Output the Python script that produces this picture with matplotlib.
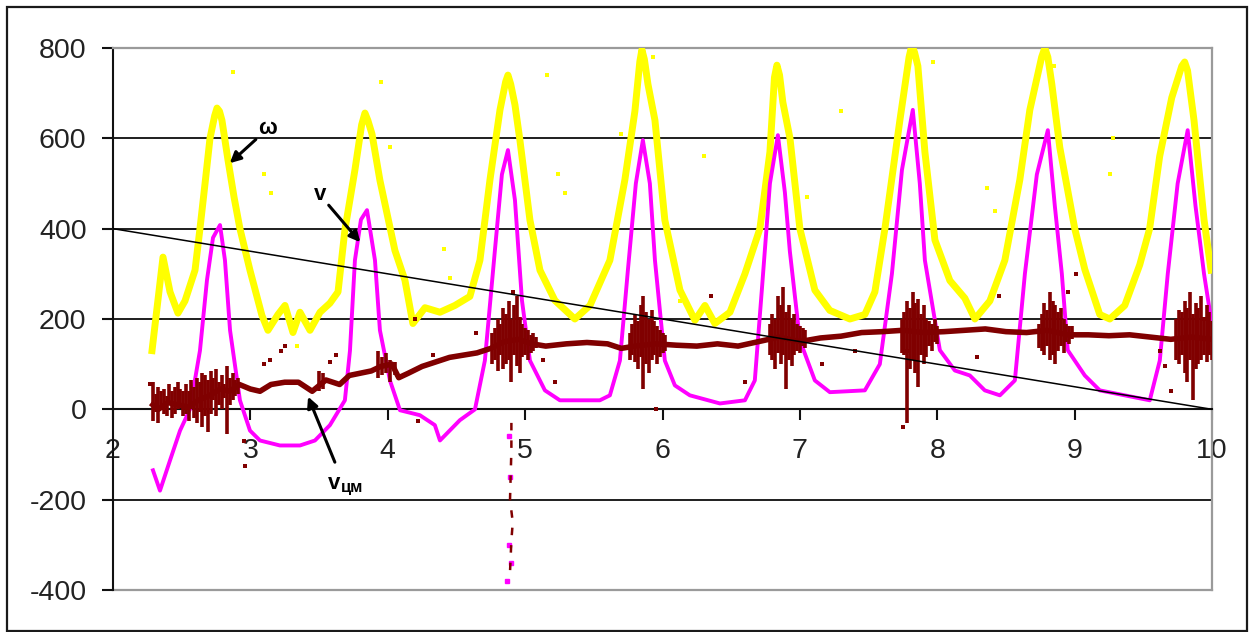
import matplotlib
matplotlib.use("Agg")
import matplotlib.pyplot as plt
from matplotlib.patches import Rectangle

plt.rcParams['font.family'] = ['Liberation Sans', 'DejaVu Sans']

# --- angular velocity ω ---
w_t = [2.284, 2.364, 2.415, 2.473, 2.524, 2.597, 2.633, 2.670, 2.706, 2.740, 2.757,
       2.775, 2.793, 2.837, 2.881, 2.924, 2.997, 3.084, 3.128, 3.201, 3.252, 3.310,
       3.361, 3.434, 3.507, 3.579, 3.638, 3.688, 3.761, 3.810, 3.834, 3.855, 3.885,
       3.943, 4.052, 4.125, 4.183, 4.271, 4.380, 4.489, 4.598, 4.671, 4.744, 4.817,
       4.858, 4.875, 4.895, 4.926, 4.962, 5.035, 5.108, 5.217, 5.362, 5.472, 5.617,
       5.726, 5.799, 5.835, 5.850, 5.868, 5.894, 5.945, 6.017, 6.127, 6.236, 6.309,
       6.381, 6.491, 6.600, 6.709, 6.782, 6.815, 6.833, 6.852, 6.876, 6.928, 7.000,
       7.109, 7.218, 7.364, 7.473, 7.546, 7.619, 7.728, 7.795, 7.815, 7.835, 7.859,
       7.910, 7.983, 8.092, 8.201, 8.274, 8.383, 8.492, 8.601, 8.674, 8.760, 8.783,
       8.805, 8.834, 8.892, 9.001, 9.074, 9.183, 9.256, 9.365, 9.474, 9.546, 9.619,
       9.707, 9.780, 9.801, 9.822, 9.869, 9.942, 9.993]
w_val = [130, 337, 260, 213, 240, 308, 400, 500, 600, 650, 667,
         660, 640, 552, 470, 400, 308, 208, 175, 210, 230, 170,
         215, 175, 215, 235, 260, 397, 530, 630, 656, 640, 610,
         507, 352, 286, 190, 225, 215, 230, 250, 330, 508, 663,
         725, 740, 720, 674, 596, 419, 308, 241, 200, 230, 330,
         508, 660, 770, 796, 775, 720, 640, 419, 264, 197, 230,
         190, 215, 300, 400, 570, 735, 762, 740, 680, 600, 400,
         264, 219, 200, 210, 260, 400, 640, 780, 806, 790, 760,
         570, 375, 285, 246, 200, 240, 330, 508, 663, 780, 800,
         780, 720, 580, 400, 310, 210, 200, 230, 320, 400, 560,
         690, 760, 769, 750, 640, 420, 308]
w_stray_t = [2.873, 3.95, 3.10, 3.15, 4.02, 4.41, 4.45, 5.16, 5.24, 5.29, 6.13, 6.30,
             7.05, 7.30, 8.36, 8.42, 8.65, 9.26, 9.28, 5.70, 3.34, 5.93, 7.97, 8.85]
w_stray = [747, 725, 520, 480, 580, 355, 290, 740, 520, 480, 240, 560,
           470, 660, 490, 440, 605, 520, 600, 610, 140, 780, 770, 760]

# --- linear velocity v ---
v_t = [2.291, 2.342, 2.415, 2.488, 2.560, 2.633, 2.684, 2.728, 2.779, 2.815, 2.852,
       2.924, 2.997, 3.070, 3.215, 3.361, 3.470, 3.579, 3.688, 3.725, 3.761, 3.805,
       3.849, 3.907, 3.943, 4.016, 4.089, 4.234, 4.343, 4.380, 4.525, 4.635, 4.707,
       4.780, 4.831, 4.875, 4.926, 4.977, 5.035, 5.144, 5.253, 5.544, 5.617, 5.690,
       5.748, 5.806, 5.857, 5.908, 5.945, 6.017, 6.090, 6.199, 6.418, 6.600, 6.672,
       6.723, 6.782, 6.840, 6.891, 6.927, 7.000, 7.109, 7.218, 7.473, 7.582, 7.670,
       7.743, 7.822, 7.873, 7.910, 8.019, 8.128, 8.237, 8.346, 8.456, 8.565, 8.638,
       8.725, 8.805, 8.856, 8.907, 8.950, 9.074, 9.183, 9.547, 9.620, 9.678, 9.750,
       9.823, 9.880, 9.942, 9.993]
v_val = [-135, -180, -113, -47, 0, 130, 286, 380, 408, 330, 175,
         20, -47, -69, -80, -80, -69, -35, 20, 130, 330, 420,
         441, 330, 175, 64, -2, -13, -35, -69, -24, 0, 108,
         352, 520, 574, 463, 241, 108, 42, 20, 20, 31, 108,
         308, 500, 596, 500, 330, 108, 53, 31, 13, 20, 64,
         264, 500, 607, 480, 350, 153, 64, 38, 42, 100, 300,
         530, 663, 500, 330, 131, 86, 75, 42, 31, 64, 300,
         520, 618, 450, 300, 131, 75, 42, 20, 108, 300, 500,
         618, 450, 300, 200]
v_drop_t = [4.88, 4.89, 4.88, 4.90, 4.87]
v_drop = [-60, -150, -300, -340, -380]

# --- centre-of-mass velocity v_цм ---
c_t = [2.29, 2.33, 2.40, 2.47, 2.55, 2.62, 2.70, 2.78, 2.85, 2.92, 3.00, 3.07,
       3.15, 3.25, 3.35, 3.45, 3.55, 3.65, 3.72, 3.80, 3.88, 3.95, 4.03, 4.08,
       4.15, 4.25, 4.35, 4.45, 4.55, 4.65, 4.75, 4.85, 4.95, 5.05, 5.15, 5.30,
       5.45, 5.60, 5.70, 5.80, 5.95, 6.10, 6.25, 6.40, 6.55, 6.70, 6.85, 7.00,
       7.15, 7.30, 7.45, 7.60, 7.75, 7.90, 8.05, 8.20, 8.35, 8.50, 8.65, 8.80,
       8.95, 9.10, 9.25, 9.40, 9.55, 9.70, 9.85, 10.0]
c_val = [10, 0, 15, 10, 5, 20, 30, 45, 40, 55, 45, 40,
         55, 60, 60, 40, 65, 55, 75, 80, 85, 95, 100, 70,
         80, 95, 105, 115, 120, 125, 135, 150, 155, 145, 140, 145,
         148, 145, 135, 140, 145, 142, 140, 145, 140, 150, 160, 150,
         158, 162, 170, 172, 175, 170, 172, 175, 178, 172, 170, 175,
         165, 165, 163, 165, 160, 155, 160, 155]
# vertical noise bursts: position, lower and upper value
burst_t = [2.29, 2.31, 2.33, 2.35, 2.37, 2.39, 2.41, 2.43, 2.45, 2.47, 2.49, 2.51,
           2.53, 2.55, 2.57, 2.59, 2.61, 2.63, 2.65, 2.67, 2.69, 2.71, 2.73, 2.75,
           2.77, 2.79, 2.81, 2.83, 2.85, 2.87, 2.89, 2.91,
           3.50, 3.53, 3.93, 3.96, 3.99, 4.02, 4.05,
           4.76, 4.78, 4.80, 4.82, 4.84, 4.86, 4.88, 4.90, 4.92, 4.94, 4.96, 4.98,
           5.00, 5.02, 5.04, 5.06, 5.08,
           5.76, 5.78, 5.80, 5.82, 5.84, 5.86, 5.88, 5.90, 5.92, 5.94, 5.96, 5.98,
           6.00, 6.02,
           6.78, 6.80, 6.82, 6.84, 6.86, 6.88, 6.90, 6.92, 6.94, 6.96, 6.98, 7.00,
           7.02, 7.04,
           7.74, 7.76, 7.78, 7.80, 7.82, 7.84, 7.86, 7.88, 7.90, 7.92, 7.94, 7.96,
           7.98, 8.00,
           8.74, 8.76, 8.78, 8.80, 8.82, 8.84, 8.86, 8.88, 8.90, 8.92, 8.94, 8.96,
           8.98,
           9.74, 9.76, 9.78, 9.80, 9.82, 9.84, 9.86, 9.88, 9.90, 9.92, 9.94, 9.96,
           9.98, 10.0]
burst_lo = [-25, -5, -30, 0, -10, -15, 10, -20, -10, 0, 5, -15,
            -10, -25, 0, -20, -30, -5, -40, -15, -50, -10, 20, -15,
            10, 0, 25, -55, 10, 20, 30, 35,
            40, 45, 70, 75, 80, 60, 75,
            100, 110, 85, 120, 90, 100, 110, 60, 120, 95, 80, 115,
            120, 110, 125, 130, 135,
            110, 120, 105, 90, 115, 45, 100, 80, 110, 120, 100, 115,
            125, 130,
            120, 110, 90, 125, 100, 120, 45, 110, 95, 120, 130, 125,
            140, 135,
            125, 120, -30, 90, 110, 80, 50, 120, 100, 115, 140, 130,
            150, 145,
            135, 130, 120, 140, 110, 120, 100, 130, 140, 125, 150, 145,
            155,
            110, 100, 120, 80, 60, 110, 20, 90, 100, 110, 120, 105,
            120, 110]
burst_hi = [60, 35, 50, 40, 45, 30, 55, 40, 50, 60, 45, 40,
            55, 40, 65, 50, 70, 60, 80, 75, 65, 85, 70, 90,
            60, 75, 55, 95, 70, 80, 65, 70,
            85, 80, 130, 115, 125, 110, 105,
            170, 180, 200, 190, 225, 210, 240, 200, 230, 250, 205, 190,
            180, 175, 165, 170, 160,
            170, 190, 210, 195, 230, 250, 215, 200, 220, 195, 185, 175,
            170, 165,
            190, 210, 200, 250, 230, 270, 215, 230, 200, 210, 190, 185,
            180, 175,
            200, 215, 240, 225, 260, 235, 245, 210, 230, 200, 195, 190,
            200, 185,
            190, 210, 235, 220, 260, 240, 230, 215, 225, 200, 190, 185,
            185,
            200, 220, 215, 240, 225, 260, 210, 235, 225, 250, 200, 230,
            215, 195]
c_stray_t = [2.95, 2.96, 3.10, 3.14, 3.22, 3.25, 4.20, 4.22, 4.33, 4.64, 4.91,
             5.13, 5.22, 5.85, 6.35, 6.60, 7.16, 7.40, 7.78, 8.29, 8.45, 8.95,
             9.01, 9.62, 9.66, 9.70, 9.94, 5.95, 7.75, 2.27, 3.58, 3.62]
c_stray = [-70, -125, 100, 110, 130, 140, 200, -25, 120, 170, 260,
           110, 60, 130, 250, 60, 100, 130, 130, 115, 250, 260,
           300, 130, 95, 40, 200, 0, -40, 55, 105, 120]
c_drop_t = [4.90, 4.90, 4.89, 4.91, 4.90, 4.89]
c_drop = [-30, -90, -200, -250, -290, -360]

# straight reference line
ref_t = [2.0, 10.0]
ref_val = [400, 0]

W, H = 1253, 632
fig = plt.figure(figsize=(W / 100, H / 100), dpi=100)
fig.patch.set_facecolor('white')
fig.add_artist(Rectangle((7 / W, 1 - 631 / H), 1240 / W, 624 / H,
                         transform=fig.transFigure, fill=False,
                         edgecolor='#1a1a1a', linewidth=1.6))

ax = fig.add_axes([113 / W, 1 - 590 / H, 1099 / W, 542 / H])
ax.set_xlim(2, 10)
ax.set_ylim(-400, 800)

for y in [600, 400, 200, -200]:
    ax.axhline(y, color='#1e1e1e', lw=1.4, zorder=1)
ax.axhline(-400, color='#9a9a9a', lw=1.6, zorder=1, clip_on=False)

ax.spines['top'].set_color('#9a9a9a')
ax.spines['top'].set_linewidth(1.6)
ax.spines['right'].set_color('#9a9a9a')
ax.spines['right'].set_linewidth(1.6)
ax.spines['left'].set_color('#111111')
ax.spines['left'].set_linewidth(1.5)
ax.spines['bottom'].set_position(('data', 0))
ax.spines['bottom'].set_color('#111111')
ax.spines['bottom'].set_linewidth(1.5)

ax.set_xticks(range(2, 11))
ax.set_yticks([-400, -200, 0, 200, 400, 600, 800])
ax.set_yticklabels(['-400', '-200', '0', '200', '400', '600', '800'])
ax.tick_params(axis='both', labelsize=20.5, colors='#111111', labelcolor='#222222')
ax.tick_params(axis='x', direction='out', length=8, width=1.5, pad=13)
ax.tick_params(axis='y', direction='out', length=8, width=1.5, pad=11)

# ω
ax.plot(w_t, w_val, color='#FFFF00', lw=5.0, solid_joinstyle='round', zorder=3)
ax.scatter(w_stray_t, w_stray, s=8, marker='s', color='#FFFF00', lw=0, zorder=3)

# v
ax.plot(v_t, v_val, color='#FF00FF', lw=2.8, solid_joinstyle='round', zorder=4)
ax.plot(v_drop_t, v_drop, color='#FF00FF', lw=0, marker='s', ms=2.5, zorder=4)

# v_цм
ax.plot(c_t, c_val, color='#800000', lw=4.0, solid_joinstyle='round', zorder=5)
ax.vlines(burst_t, burst_lo, burst_hi, color='#800000', lw=2.6, zorder=5)
ax.scatter(c_stray_t, c_stray, s=9, marker='s', color='#800000', lw=0, zorder=5)
ax.plot(c_drop_t, c_drop, color='#800000', lw=1.8, ls=(0, (3, 4)), zorder=5)

# reference line
ax.plot(ref_t, ref_val, color='black', lw=1.1, zorder=6)

arrow = dict(arrowstyle='-|>', color='black', lw=2.2, mutation_scale=16,
             shrinkA=0, shrinkB=0)
ax.annotate('ω', xy=(2.85, 545), xytext=(3.06, 622), arrowprops=arrow,
            fontsize=16, fontweight='bold', ha='left', va='center', zorder=7)
ax.annotate('v', xy=(3.80, 370), xytext=(3.55, 452), arrowprops=arrow,
            fontsize=16, fontweight='bold', ha='right', va='bottom', zorder=7)
ax.annotate('', xy=(3.42, 28), xytext=(3.615, -117), arrowprops=arrow, zorder=7)
ax.text(3.61, -140, 'v', fontsize=16, fontweight='bold', ha='center', va='top',
        zorder=7)
ax.text(3.66, -190, 'цм', fontsize=12, fontweight='bold', ha='left', va='bottom',
        zorder=7)

fig.savefig('out.png', dpi=100, facecolor='white')
